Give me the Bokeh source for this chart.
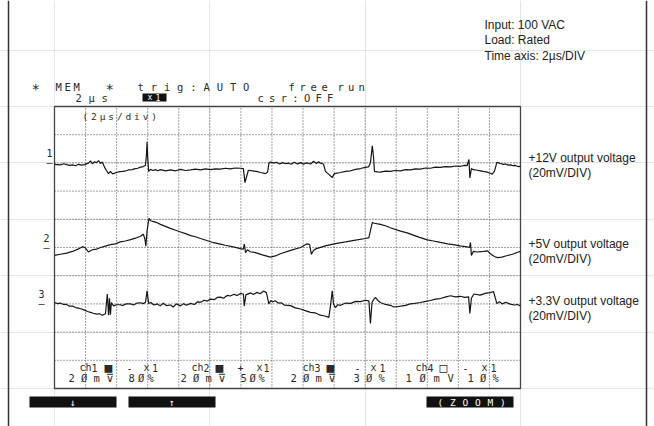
from bokeh.plotting import figure
from bokeh.models import Range1d, Label, ColumnDataSource
from bokeh.core.properties import value
from bokeh.embed import file_html
from bokeh.resources import INLINE

# ---------------------------------------------------------------------------
# Captured waveforms: time in microseconds, ripple in millivolts relative to
# each channel's marker level (2 us/div, 20 mV/div on all three channels).
# ---------------------------------------------------------------------------
ch1_t = [0.0, 0.38, 0.6, 0.78, 1.0, 1.16, 1.36, 1.54, 1.74, 1.94, 2.18, 2.32, 2.44, 2.58, 2.7,
         2.84, 2.96, 3.08, 3.22, 3.34, 3.48, 3.6, 3.74, 4.0, 4.2, 4.38, 4.6, 4.76, 5.0, 5.14,
         5.36, 5.54, 5.72, 5.86, 5.92, 5.96, 6.0, 6.06, 6.18, 6.34, 6.5, 6.66, 6.82, 7.14, 7.46,
         7.8, 8.12, 8.44, 8.76, 9.08, 9.4, 9.72, 10.04, 10.36, 10.68, 11.0, 11.32, 11.64, 11.98,
         12.16, 12.26, 12.36, 12.48, 12.74, 13.0, 13.26, 13.58, 13.72, 13.8, 13.9, 14.1, 14.3,
         14.5, 14.68, 14.86, 15.06, 15.24, 15.44, 15.64, 15.84, 16.02, 16.22, 16.48, 16.68, 16.86,
         17.0, 17.12, 17.32, 17.44, 17.64, 17.88, 18.02, 18.42, 18.74, 19.06, 19.38, 19.7, 20.0,
         20.22, 20.34, 20.46, 20.54, 20.6, 20.8, 20.98, 21.3, 21.62, 21.94, 22.28, 22.6, 22.92,
         23.24, 23.56, 23.88, 24.2, 24.52, 24.84, 25.16, 25.5, 25.82, 26.14, 26.4, 26.56, 26.68,
         26.74, 26.84, 26.96, 27.2, 27.42, 27.6, 27.8, 28.0, 28.18, 28.32, 28.48, 28.6, 28.7,
         28.9, 29.04, 29.2, 29.36, 29.52, 29.68, 29.84, 30.0]
ch1_mv = [-1.0, -1.4, -0.6, -1.2, -1.8, -1.4, -2.0, -1.0, -1.6, -1.2, -0.2, 1.4, -0.6, 0.8, 0.2,
          1.6, -0.4, 0.6, -3.0, -5.4, -7.6, -6.0, -7.8, -6.8, -6.2, -6.0, -5.6, -5.0, -4.8, -4.2,
          -3.8, -3.0, -2.6, -1.6, 6.0, 14.8, 4.0, -6.0, -4.6, -5.4, -4.8, -5.6, -4.8, -5.6, -5.0,
          -5.6, -4.6, -5.4, -5.0, -4.4, -5.0, -4.2, -4.8, -4.2, -4.4, -3.8, -4.2, -3.6, -3.8,
          -4.0, -14.0, -10.0, -5.2, -5.6, -6.0, -6.8, -7.6, -6.4, -0.4, 0.6, 0.0, 0.4,
          -0.8, 0.2, -0.6, -0.2, -1.0, 0.4, -0.8, 0.2, -1.0, 0.0, -0.8, 1.2, -0.4,
          0.8, -0.2, -0.8, -6.0, -8.0, -10.4, -7.6, -6.8, -6.0, -5.6, -4.6, -4.0, -3.2,
          -2.8, 0.0, 12.2, 4.0, -6.0, -6.4, -6.6, -5.8, -6.0, -5.4, -5.6, -4.8, -5.0,
          -4.2, -4.4, -3.6, -3.8, -3.0, -3.2, -2.6, -2.8, -2.2, -2.4, -1.8, -2.0, 2.4,
          -10.6, -4.0, -4.8, -5.2, -5.6, -6.0, -6.4, -7.2, -8.0, -6.0, 0.4, 0.0, -0.4,
          -1.0, -0.8, -1.6, -1.4, -2.0, -1.8, -2.6, -2.4]

ch2_t = [0.0, 0.38, 0.78, 1.16, 1.54, 1.8, 2.0, 2.18, 2.44, 2.7, 2.96, 3.28, 3.6, 3.92, 4.24,
         4.56, 4.9, 5.2, 5.54, 5.72, 5.82, 5.88, 5.96, 6.08, 6.18, 6.38, 6.6, 6.82, 7.14, 7.46,
         7.8, 8.12, 8.44, 8.76, 9.08, 9.4, 9.8, 10.24, 10.6, 11.0, 11.5, 11.98, 12.16, 12.22,
         12.3, 12.42, 12.6, 12.94, 13.38, 13.9, 14.22, 14.54, 15.2, 15.84, 16.26, 16.42, 16.54,
         16.68, 16.86, 17.44, 18.08, 18.74, 19.38, 20.02, 20.24, 20.34, 20.46, 20.6, 20.98,
         21.3, 21.62, 22.28, 22.7, 23.1, 23.5, 24.0, 24.4, 24.84, 25.3, 25.68, 26.1, 26.56,
         26.72, 26.78, 26.84, 26.96, 27.22, 27.62, 27.88, 28.06, 28.32, 28.52, 28.8, 29.04,
         29.48, 29.86, 30.0]
ch2_mv = [-5.6, -4.8, -4.0, -2.8, -1.0, 0.6, -0.4, -3.2, -1.6, -1.2, 0.0, 1.0, 2.0, 2.6, 4.0,
          4.6, 5.6, 6.6, 8.0, 9.4, 6.0, 1.0, 12.0, 20.6, 19.0, 18.4, 17.6, 16.4, 15.0, 13.6,
          12.2, 11.0, 9.8, 8.4, 7.6, 6.4, 5.0, 3.4, 2.6, 1.6, 0.4, -0.8, -1.2, 2.4,
          -3.6, -1.6, -3.0, -3.6, -5.2, -6.8, -6.0, -4.4, -2.0, 0.0, 2.6, 2.0, -4.8,
          -2.0, -0.8, 1.2, 2.8, 4.0, 5.2, 6.4, 7.0, 12.0, 17.6, 17.2, 16.4,
          15.4, 14.0, 11.6, 10.4, 8.8, 7.2, 5.4, 4.6, 3.6, 2.6, 2.0, 1.2, 0.4,
          0.0, 3.6, -5.6, -2.8, -3.2, -2.8, -2.4, -4.4, -6.4, -7.2, -6.8, -6.0,
          -4.8, -3.2, -2.8]

ch3_t = [0.0, 0.2, 0.38, 0.58, 0.78, 0.96, 1.16, 1.36, 1.54, 1.74, 1.94, 2.12, 2.32, 2.5, 2.7,
         2.9, 3.08, 3.28, 3.4, 3.48, 3.54, 3.6, 3.66, 3.8, 4.0, 4.24, 4.4, 4.6, 4.9, 5.1, 5.3,
         5.54, 5.7, 5.86, 5.96, 6.06, 6.2, 6.4, 6.62, 6.8, 7.0, 7.2, 7.46, 7.64, 7.84, 8.12,
         8.3, 8.5, 8.76, 9.0, 9.2, 9.4, 9.64, 9.84, 10.04, 10.28, 10.48, 10.68, 10.88, 11.12,
         11.32, 11.56, 11.76, 11.98, 12.16, 12.22, 12.32, 12.62, 12.8, 13.04, 13.24, 13.46,
         13.64, 13.8, 13.92, 14.04, 14.2, 14.42, 14.6, 14.8, 15.2, 15.5, 15.84, 16.1, 16.48,
         16.8, 17.12, 17.4, 17.66, 17.76, 17.88, 17.96, 18.08, 18.24, 18.42, 18.74, 19.06,
         19.4, 19.7, 20.0, 20.24, 20.34, 20.44, 20.54, 20.66, 20.8, 20.98, 21.3, 21.62, 21.84,
         22.06, 22.3, 22.6, 22.9, 23.2, 23.56, 23.9, 24.2, 24.52, 24.84, 25.2, 25.5, 25.8,
         26.14, 26.4, 26.66, 26.74, 26.84, 27.0, 27.4, 27.78, 28.06, 28.26, 28.48, 28.64,
         28.84, 29.04, 29.22, 29.4, 29.62, 29.8, 30.0]
ch3_mv = [1.0, 0.2, 0.6, -0.4, -0.4, -1.6, -1.6, -2.6, -3.0, -3.6, -4.4, -5.4, -6.0, -6.6, -7.2,
          -7.0, -8.0, -7.0, 7.0, -8.0, 4.0, -7.6, 1.0, -1.4, -0.6, -0.6, -1.2, 0.0, 0.0, -0.8,
          0.6, 0.8, 0.2, 1.2, 9.2, 0.4, 1.0, -0.8, 0.0, -1.4, 0.4, -1.2, -0.8, -2.2, 0.0, -1.4,
          0.2, -1.0, 0.4, -0.4, 1.4, 1.2, 2.6, 2.0, 3.4, 3.0, 4.6, 4.8, 4.0, 6.0,
          5.6, 6.8, 6.0, 7.4, 7.0, -1.4, 6.4, 7.8, 6.6, 8.2, 7.2, 9.2,
          8.0, 0.0, 2.4, 1.4, 2.2, 0.6, 0.8, -0.8, -1.2, -2.8, -3.6, -4.6, -6.0,
          -6.4, -8.0, -8.6, -9.6, -2.0, 9.2, 0.0, -2.6, -0.6, -1.0, 0.6, 0.4,
          1.8, 1.6, 2.6, 2.2, -13.8, 1.0, 3.0, 4.6, 2.6, 1.0, -0.4, -1.0, -2.2,
          -2.0, -1.6, -1.0, 0.0, 0.4, 1.0, 1.8, 2.4, 3.4, 3.8, 5.0, 5.8, 5.0,
          5.4, 4.6, 5.0, -6.8, 4.0, 7.0, 6.2, 7.6, 8.0, 8.8, 0.2, 1.6,
          0.0, 1.2, 0.4, -0.4, -0.8, -0.4, -1.4]

# channel marker levels, in divisions above the bottom of the screen
ch_level = [8, 5, 3]
ch_names = ["1", "2", "3"]
trace_labels = ["+12V output voltage", "+5V output voltage", "+3.3V output voltage"]
scale_label = "(20mV/DIV)"
conditions = ["Input: 100 VAC", "Load: Rated", "Time axis: 2\u00b5s/DIV"]

US_PER_DIV = 2.0
MV_PER_DIV = 20.0
NX, NY = 15, 10

# ---------------------------------------------------------------------------
# Layout: the whole canvas is the frame; the scope screen is a sub-rectangle.
# ---------------------------------------------------------------------------
W, H = 654, 426
SX0, SX1, SY0, SY1 = 54, 520, 106, 388


def gx(x):
    return (x - SX0) / (SX1 - SX0) * NX


def gy(y):
    return (SY1 - y) / (SY1 - SY0) * NY


p = figure(width=W, height=H, x_range=Range1d(gx(0), gx(W)), y_range=Range1d(gy(H), gy(0)),
           output_backend="svg", toolbar_location=None, min_border=0,
           x_axis_location=None, y_axis_location=None, outline_line_color=None,
           background_fill_color="white", border_fill_color="white")

INK = "#2b2b2b"
MONO = "DejaVu Sans Mono"
SANS = "Liberation Sans"


def label(x, y, text, size, font=SANS, color="#222222"):
    p.add_layout(Label(x=gx(x), y=gy(y), text=text, text_font=font,
                       text_font_size=f"{size}px", text_color=color,
                       text_align="left", text_baseline="middle"))


# scope screen lettering is laid out on a character grid with its own pitch
glyphs = {}


def lcd(x, y, s, pitch=12.0, size=10.5, color=INK):
    bucket = glyphs.setdefault((size, color), {"x": [], "y": [], "t": []})
    for i, ch in enumerate(s):
        if ch == " ":
            continue
        bucket["x"].append(gx(x + i * pitch))
        bucket["y"].append(gy(y))
        bucket["t"].append(ch)


# page frame
p.segment(x0=[gx(8), gx(646)], y0=[gy(0), gy(0)], x1=[gx(8), gx(646)], y1=[gy(H), gy(H)],
          line_color="#333333", line_width=1.5)

# dotted graticule
p.segment(x0=list(range(1, NX)), y0=[0] * (NX - 1), x1=list(range(1, NX)), y1=[NY] * (NX - 1),
          line_color="#444444", line_width=1, line_dash="1 2")
p.segment(x0=[0] * (NY - 1), y0=list(range(1, NY)), x1=[NX] * (NY - 1), y1=list(range(1, NY)),
          line_color="#444444", line_width=1, line_dash="1 2")
p.quad(left=[0], right=[NX], bottom=[0], top=[NY], fill_alpha=0,
       line_color="#444444", line_width=1.3)

# traces
for t, mv, lvl in zip([ch1_t, ch2_t, ch3_t], [ch1_mv, ch2_mv, ch3_mv], ch_level):
    p.line([v / US_PER_DIV for v in t], [lvl + v / MV_PER_DIV for v in mv],
           line_color="#161616", line_width=1.2)

# channel markers at the left edge of the screen
marker_x = [46, 43, 38]
for name, lvl, mx in zip(ch_names, ch_level, marker_x):
    yp = SY1 - lvl * (SY1 - SY0) / NY
    lcd(mx, yp - 9.5, name, size=10)
    lcd(mx, yp, "\u2013", size=10)

# trace descriptions on the right
for txt, ty in zip(trace_labels, [157, 243, 300]):
    label(528, ty, txt, 12)
    label(528, ty + 15, scale_label, 12)

# test conditions
for i, txt in enumerate(conditions):
    label(484, 24 + 15.5 * i, txt, 12)

# scope status header
lcd(31, 88, "*", size=14)
lcd(55, 86, "MEM", 9.0)
lcd(105, 88, "*", size=14)
lcd(137, 86, "trig:AUTO", 13.2)
lcd(288, 86, "free", 11.0)
lcd(337, 86, "run", 10.5)
lcd(75, 97, "2\u00b5s", 13.0)
lcd(257, 97, "csr:OFF", 11.6)
p.quad(left=[gx(142)], right=[gx(166)], bottom=[gy(101)], top=[gy(93)], fill_color="#111111",
       line_color=None)
lcd(147, 97, "x1", 8.0, size=8, color="white")
lcd(82, 116, "(2\u00b5s/div)", 8.6, size=9.5)

# channel readouts along the bottom of the screen
for x, s, pitch in [(79, "ch1", 6.0), (126, "-", 6), (143, "x1", 8.5),
                    (191, "ch2", 6.0), (237, "+", 6), (256, "x1", 7.0),
                    (302, "ch3", 6.0), (354, "-", 6), (370, "x1", 9.0),
                    (415, "ch4", 6.0), (462, "-", 6), (481, "x1", 9.0)]:
    lcd(x, 367, s, pitch, size=10)
for x, s in [(104, "\u25a0"), (215, "\u25a0"), (326, "\u25a0"), (439, "\u25a1")]:
    lcd(x, 367, s, size=13)
for x, s, pitch in [(68, "2\u00d8m", 12.5), (105, "\u22bd", 6), (128, "8\u00d8%", 9.5),
                    (180, "2\u00d8m", 12.5), (217, "\u22bd", 6), (240, "5\u00d8%", 9.0),
                    (290, "2\u00d8m", 12.5), (327, "\u22bd", 6), (353, "3\u00d8%", 12.5),
                    (405, "1\u00d8mV", 14.0), (467, "1\u00d8%", 12.5)]:
    lcd(x, 377.5, s, pitch, size=10.5)

# soft-key bar
keys = [(29, 116), (128, 215), (426, 513)]
p.quad(left=[gx(a) for a, b in keys], right=[gx(b) for a, b in keys],
       bottom=[gy(407)] * 3, top=[gy(396)] * 3, fill_color="#111111", line_color=None)
lcd(69, 401.5, "\u2193", size=10, color="white")
lcd(168, 401.5, "\u2191", size=10, color="white")
lcd(437, 401.5, "(ZOOM)", 12.5, size=9.5, color="white")

for (size, color), d in glyphs.items():
    src = ColumnDataSource(dict(x=d["x"], y=d["y"], t=d["t"]))
    p.text(x="x", y="y", text="t", source=src, text_font=value(MONO),
           text_font_size=f"{size}px", text_color=color, text_baseline="middle",
           text_align="left")

open("out.html", "w").write(file_html(p, INLINE))
